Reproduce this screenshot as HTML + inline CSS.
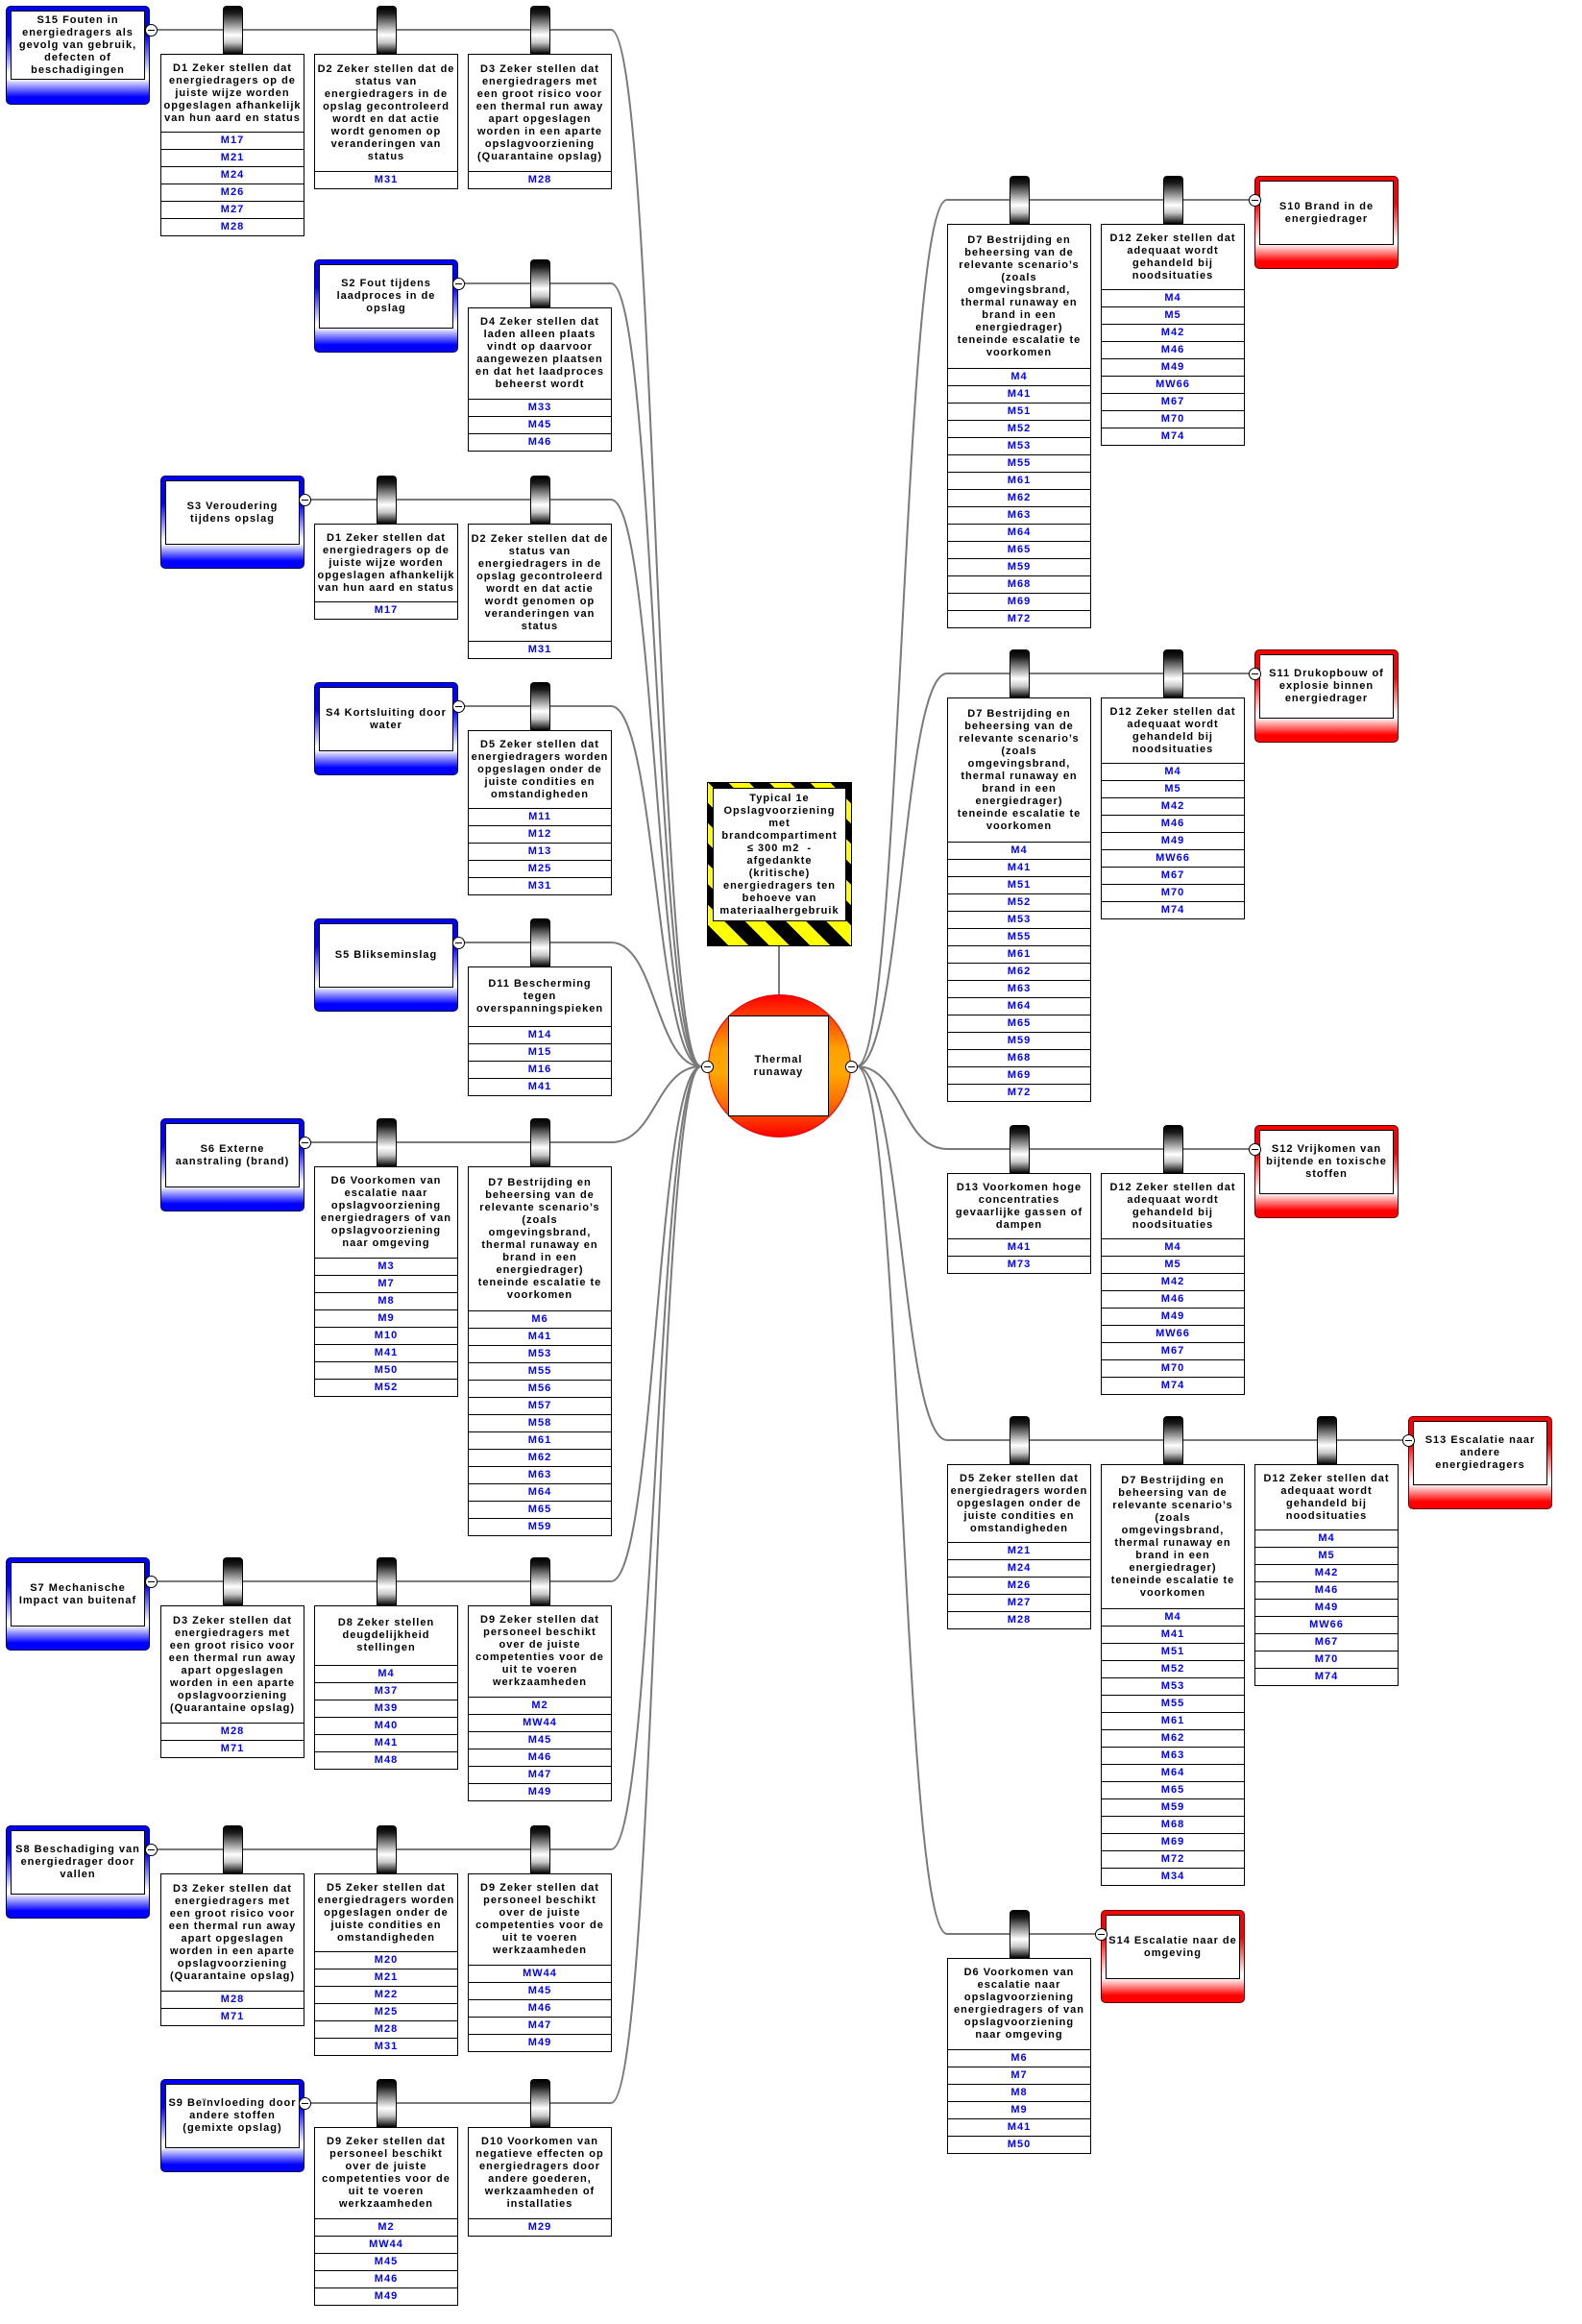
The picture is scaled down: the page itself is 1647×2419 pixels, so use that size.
<!DOCTYPE html>
<html><head><meta charset="utf-8">
<style>
html,body{margin:0;padding:0;}
body{width:1647px;height:2419px;position:relative;background:#fff;overflow:hidden;font-family:"Liberation Sans",Arial,sans-serif;}
svg.ln{position:absolute;left:0;top:0;}
.c{position:absolute;width:19px;height:49px;border:1px solid #000;border-bottom:none;border-radius:4px 4px 0 0;background:linear-gradient(to bottom,#000 0%,#1c1c1c 14%,#ffffff 60%,#c8c8c8 76%,#000 100%);}
.d{position:absolute;width:148px;border:1px solid #000;background:#fff;}
.d .t{display:flex;align-items:center;justify-content:center;text-align:center;font-weight:bold;font-size:11px;line-height:13px;letter-spacing:1px;white-space:nowrap;color:#000;}
.d .m{height:17px;border-top:1px solid #000;color:#0000ff;font-weight:bold;font-size:11px;line-height:17px;letter-spacing:1px;text-align:center;}
.s{position:absolute;width:148px;height:95px;border-radius:5px;}
.s.b{border:1px solid #000050;background:linear-gradient(to bottom,#0000ff 0px,#0000ff 28px,#ffffff 66px,#ffffff 70px,#0000ff 88px,#0000ff 95px);}
.s.r{border:1px solid #600000;background:linear-gradient(to bottom,#ff0000 0px,#ff0000 28px,#ffffff 66px,#ffffff 70px,#ff0000 88px,#ff0000 95px);}
.s.tall{height:101px;background:linear-gradient(to bottom,#0000ff 0px,#0000ff 30px,#ffffff 70px,#ffffff 75px,#0000ff 94px,#0000ff 101px);}
.si{position:absolute;left:4px;top:4px;width:138px;height:65px;border:1px solid #000;background:#fff;display:flex;align-items:center;justify-content:center;text-align:center;font-weight:bold;font-size:11px;line-height:13px;letter-spacing:1px;white-space:nowrap;color:#000;}
.tall .si{height:70px;}
.o{position:absolute;width:11px;height:11px;border:1px solid #000;border-radius:50%;background:#fff;}
.o::after{content:"";position:absolute;left:2px;top:5px;width:7px;height:1px;background:#000;}
.hz{position:absolute;left:736px;top:814px;width:149px;height:169px;border:1px solid #000;background:repeating-linear-gradient(45deg,#000 0px,#000 15px,#ffff00 15px,#ffff00 30px);}
.hzi{position:absolute;left:5px;top:5px;width:137px;height:137px;border:1px solid #000;background:#fff;display:flex;align-items:center;justify-content:center;text-align:center;font-weight:bold;font-size:11px;line-height:13px;letter-spacing:1px;white-space:nowrap;color:#000;}
.te{position:absolute;left:737px;top:1035px;width:147px;height:147px;border:1px solid #e00000;border-radius:50%;background:linear-gradient(to bottom,#ff0000 0%,#ff3c00 14%,#ffa000 38%,#ffa800 55%,#ff7000 75%,#ff0000 100%);}
.tei{position:absolute;left:758px;top:1057px;width:103px;height:103px;border:1px solid #000;background:#fff;display:flex;align-items:center;justify-content:center;text-align:center;font-weight:bold;font-size:11px;line-height:13px;letter-spacing:1px;color:#000;}
</style></head><body>

<svg class="ln" width="1647" height="2419" viewBox="0 0 1647 2419">
<g fill="none" stroke="#7a7a7a" stroke-width="2">
<path d="M157 31 H636 C683 31 683 1110 730 1110"/>
<path d="M477 295 H636 C683 295 683 1110 730 1110"/>
<path d="M317 520 H636 C683 520 683 1110 730 1110"/>
<path d="M477 735 H636 C683 735 683 1110 730 1110"/>
<path d="M477 981 H636 C683 981 683 1110 730 1110"/>
<path d="M317 1189 H636 C683 1189 683 1110 730 1110"/>
<path d="M157 1646 H636 C683 1646 683 1110 730 1110"/>
<path d="M157 1925 H636 C683 1925 683 1110 730 1110"/>
<path d="M317 2189 H636 C683 2189 683 1110 730 1110"/>
<path d="M1306 208 H986 C939 208 939 1110 892 1110"/>
<path d="M1306 701 H986 C939 701 939 1110 892 1110"/>
<path d="M1306 1196 H986 C939 1196 939 1110 892 1110"/>
<path d="M1466 1499 H986 C939 1499 939 1110 892 1110"/>
<path d="M1146 2013 H986 C939 2013 939 1110 892 1110"/>
<path d="M811 985 V1035"/>
</g>
</svg>

<!-- connectors -->
<div class="c" style="left:232px;top:6px"></div>
<div class="c" style="left:392px;top:6px"></div>
<div class="c" style="left:552px;top:6px"></div>
<div class="c" style="left:552px;top:270px"></div>
<div class="c" style="left:392px;top:495px"></div>
<div class="c" style="left:552px;top:495px"></div>
<div class="c" style="left:552px;top:710px"></div>
<div class="c" style="left:552px;top:956px"></div>
<div class="c" style="left:392px;top:1164px"></div>
<div class="c" style="left:552px;top:1164px"></div>
<div class="c" style="left:232px;top:1621px"></div>
<div class="c" style="left:392px;top:1621px"></div>
<div class="c" style="left:552px;top:1621px"></div>
<div class="c" style="left:232px;top:1900px"></div>
<div class="c" style="left:392px;top:1900px"></div>
<div class="c" style="left:552px;top:1900px"></div>
<div class="c" style="left:392px;top:2164px"></div>
<div class="c" style="left:552px;top:2164px"></div>

<div class="c" style="left:1051px;top:183px"></div>
<div class="c" style="left:1211px;top:183px"></div>
<div class="c" style="left:1051px;top:676px"></div>
<div class="c" style="left:1211px;top:676px"></div>
<div class="c" style="left:1051px;top:1171px"></div>
<div class="c" style="left:1211px;top:1171px"></div>
<div class="c" style="left:1051px;top:1474px"></div>
<div class="c" style="left:1211px;top:1474px"></div>
<div class="c" style="left:1371px;top:1474px"></div>
<div class="c" style="left:1051px;top:1988px"></div>

<!-- LEFT: S15 -->
<div class="s b tall" style="left:6px;top:6px"><div class="si">S15 Fouten in<br>energiedragers als<br>gevolg van gebruik,<br>defecten of<br>beschadigingen</div></div>
<div class="d" style="left:167px;top:56px"><div class="t" style="height:80px"><div>D1 Zeker stellen dat<br>energiedragers op de<br>juiste wijze worden<br>opgeslagen afhankelijk<br>van hun aard en status</div></div><div class="m">M17</div><div class="m">M21</div><div class="m">M24</div><div class="m">M26</div><div class="m">M27</div><div class="m">M28</div></div>
<div class="d" style="left:327px;top:56px"><div class="t" style="height:121px"><div>D2 Zeker stellen dat de<br>status van<br>energiedragers in de<br>opslag gecontroleerd<br>wordt en dat actie<br>wordt genomen op<br>veranderingen van<br>status</div></div><div class="m">M31</div></div>
<div class="d" style="left:487px;top:56px"><div class="t" style="height:121px"><div>D3 Zeker stellen dat<br>energiedragers met<br>een groot risico voor<br>een thermal run away<br>apart opgeslagen<br>worden in een aparte<br>opslagvoorziening<br>(Quarantaine opslag)</div></div><div class="m">M28</div></div>

<!-- S2 -->
<div class="s b" style="left:327px;top:270px"><div class="si">S2 Fout tijdens<br>laadproces in de<br>opslag</div></div>
<div class="d" style="left:487px;top:320px"><div class="t" style="height:94px"><div>D4 Zeker stellen dat<br>laden alleen plaats<br>vindt op daarvoor<br>aangewezen plaatsen<br>en dat het laadproces<br>beheerst wordt</div></div><div class="m">M33</div><div class="m">M45</div><div class="m">M46</div></div>

<!-- S3 -->
<div class="s b" style="left:167px;top:495px"><div class="si">S3 Veroudering<br>tijdens opslag</div></div>
<div class="d" style="left:327px;top:545px"><div class="t" style="height:80px"><div>D1 Zeker stellen dat<br>energiedragers op de<br>juiste wijze worden<br>opgeslagen afhankelijk<br>van hun aard en status</div></div><div class="m">M17</div></div>
<div class="d" style="left:487px;top:545px"><div class="t" style="height:121px"><div>D2 Zeker stellen dat de<br>status van<br>energiedragers in de<br>opslag gecontroleerd<br>wordt en dat actie<br>wordt genomen op<br>veranderingen van<br>status</div></div><div class="m">M31</div></div>

<!-- S4 -->
<div class="s b" style="left:327px;top:710px"><div class="si">S4 Kortsluiting door<br>water</div></div>
<div class="d" style="left:487px;top:760px"><div class="t" style="height:80px"><div>D5 Zeker stellen dat<br>energiedragers worden<br>opgeslagen onder de<br>juiste condities en<br>omstandigheden</div></div><div class="m">M11</div><div class="m">M12</div><div class="m">M13</div><div class="m">M25</div><div class="m">M31</div></div>

<!-- S5 -->
<div class="s b" style="left:327px;top:956px"><div class="si">S5 Blikseminslag</div></div>
<div class="d" style="left:487px;top:1006px"><div class="t" style="height:61px"><div>D11 Bescherming<br>tegen<br>overspanningspieken</div></div><div class="m">M14</div><div class="m">M15</div><div class="m">M16</div><div class="m">M41</div></div>

<!-- S6 -->
<div class="s b" style="left:167px;top:1164px"><div class="si">S6 Externe<br>aanstraling (brand)</div></div>
<div class="d" style="left:327px;top:1214px"><div class="t" style="height:94px"><div>D6 Voorkomen van<br>escalatie naar<br>opslagvoorziening<br>energiedragers of van<br>opslagvoorziening<br>naar omgeving</div></div><div class="m">M3</div><div class="m">M7</div><div class="m">M8</div><div class="m">M9</div><div class="m">M10</div><div class="m">M41</div><div class="m">M50</div><div class="m">M52</div></div>
<div class="d" style="left:487px;top:1214px"><div class="t" style="height:149px"><div>D7 Bestrijding en<br>beheersing van de<br>relevante scenario’s<br>(zoals<br>omgevingsbrand,<br>thermal runaway en<br>brand in een<br>energiedrager)<br>teneinde escalatie te<br>voorkomen</div></div><div class="m">M6</div><div class="m">M41</div><div class="m">M53</div><div class="m">M55</div><div class="m">M56</div><div class="m">M57</div><div class="m">M58</div><div class="m">M61</div><div class="m">M62</div><div class="m">M63</div><div class="m">M64</div><div class="m">M65</div><div class="m">M59</div></div>

<!-- S7 -->
<div class="s b" style="left:6px;top:1621px"><div class="si">S7 Mechanische<br>Impact van buitenaf</div></div>
<div class="d" style="left:167px;top:1671px"><div class="t" style="height:121px"><div>D3 Zeker stellen dat<br>energiedragers met<br>een groot risico voor<br>een thermal run away<br>apart opgeslagen<br>worden in een aparte<br>opslagvoorziening<br>(Quarantaine opslag)</div></div><div class="m">M28</div><div class="m">M71</div></div>
<div class="d" style="left:327px;top:1671px"><div class="t" style="height:61px"><div>D8 Zeker stellen<br>deugdelijkheid<br>stellingen</div></div><div class="m">M4</div><div class="m">M37</div><div class="m">M39</div><div class="m">M40</div><div class="m">M41</div><div class="m">M48</div></div>
<div class="d" style="left:487px;top:1671px"><div class="t" style="height:94px"><div>D9 Zeker stellen dat<br>personeel beschikt<br>over de juiste<br>competenties voor de<br>uit te voeren<br>werkzaamheden</div></div><div class="m">M2</div><div class="m">MW44</div><div class="m">M45</div><div class="m">M46</div><div class="m">M47</div><div class="m">M49</div></div>

<!-- S8 -->
<div class="s b" style="left:6px;top:1900px"><div class="si">S8 Beschadiging van<br>energiedrager door<br>vallen</div></div>
<div class="d" style="left:167px;top:1950px"><div class="t" style="height:121px"><div>D3 Zeker stellen dat<br>energiedragers met<br>een groot risico voor<br>een thermal run away<br>apart opgeslagen<br>worden in een aparte<br>opslagvoorziening<br>(Quarantaine opslag)</div></div><div class="m">M28</div><div class="m">M71</div></div>
<div class="d" style="left:327px;top:1950px"><div class="t" style="height:80px"><div>D5 Zeker stellen dat<br>energiedragers worden<br>opgeslagen onder de<br>juiste condities en<br>omstandigheden</div></div><div class="m">M20</div><div class="m">M21</div><div class="m">M22</div><div class="m">M25</div><div class="m">M28</div><div class="m">M31</div></div>
<div class="d" style="left:487px;top:1950px"><div class="t" style="height:94px"><div>D9 Zeker stellen dat<br>personeel beschikt<br>over de juiste<br>competenties voor de<br>uit te voeren<br>werkzaamheden</div></div><div class="m">MW44</div><div class="m">M45</div><div class="m">M46</div><div class="m">M47</div><div class="m">M49</div></div>

<!-- S9 -->
<div class="s b" style="left:167px;top:2164px"><div class="si">S9 Beïnvloeding door<br>andere stoffen<br>(gemixte opslag)</div></div>
<div class="d" style="left:327px;top:2214px"><div class="t" style="height:94px"><div>D9 Zeker stellen dat<br>personeel beschikt<br>over de juiste<br>competenties voor de<br>uit te voeren<br>werkzaamheden</div></div><div class="m">M2</div><div class="m">MW44</div><div class="m">M45</div><div class="m">M46</div><div class="m">M49</div></div>
<div class="d" style="left:487px;top:2214px"><div class="t" style="height:94px"><div>D10 Voorkomen van<br>negatieve effecten op<br>energiedragers door<br>andere goederen,<br>werkzaamheden of<br>installaties</div></div><div class="m">M29</div></div>

<!-- RIGHT: S10 -->
<div class="d" style="left:986px;top:233px"><div class="t" style="height:149px"><div>D7 Bestrijding en<br>beheersing van de<br>relevante scenario’s<br>(zoals<br>omgevingsbrand,<br>thermal runaway en<br>brand in een<br>energiedrager)<br>teneinde escalatie te<br>voorkomen</div></div><div class="m">M4</div><div class="m">M41</div><div class="m">M51</div><div class="m">M52</div><div class="m">M53</div><div class="m">M55</div><div class="m">M61</div><div class="m">M62</div><div class="m">M63</div><div class="m">M64</div><div class="m">M65</div><div class="m">M59</div><div class="m">M68</div><div class="m">M69</div><div class="m">M72</div></div>
<div class="d" style="left:1146px;top:233px"><div class="t" style="height:67px"><div>D12 Zeker stellen dat<br>adequaat wordt<br>gehandeld bij<br>noodsituaties</div></div><div class="m">M4</div><div class="m">M5</div><div class="m">M42</div><div class="m">M46</div><div class="m">M49</div><div class="m">MW66</div><div class="m">M67</div><div class="m">M70</div><div class="m">M74</div></div>
<div class="s r" style="left:1306px;top:183px"><div class="si">S10 Brand in de<br>energiedrager</div></div>

<!-- S11 -->
<div class="d" style="left:986px;top:726px"><div class="t" style="height:149px"><div>D7 Bestrijding en<br>beheersing van de<br>relevante scenario’s<br>(zoals<br>omgevingsbrand,<br>thermal runaway en<br>brand in een<br>energiedrager)<br>teneinde escalatie te<br>voorkomen</div></div><div class="m">M4</div><div class="m">M41</div><div class="m">M51</div><div class="m">M52</div><div class="m">M53</div><div class="m">M55</div><div class="m">M61</div><div class="m">M62</div><div class="m">M63</div><div class="m">M64</div><div class="m">M65</div><div class="m">M59</div><div class="m">M68</div><div class="m">M69</div><div class="m">M72</div></div>
<div class="d" style="left:1146px;top:726px"><div class="t" style="height:67px"><div>D12 Zeker stellen dat<br>adequaat wordt<br>gehandeld bij<br>noodsituaties</div></div><div class="m">M4</div><div class="m">M5</div><div class="m">M42</div><div class="m">M46</div><div class="m">M49</div><div class="m">MW66</div><div class="m">M67</div><div class="m">M70</div><div class="m">M74</div></div>
<div class="s r" style="left:1306px;top:676px"><div class="si">S11 Drukopbouw of<br>explosie binnen<br>energiedrager</div></div>

<!-- S12 -->
<div class="d" style="left:986px;top:1221px"><div class="t" style="height:67px"><div>D13 Voorkomen hoge<br>concentraties<br>gevaarlijke gassen of<br>dampen</div></div><div class="m">M41</div><div class="m">M73</div></div>
<div class="d" style="left:1146px;top:1221px"><div class="t" style="height:67px"><div>D12 Zeker stellen dat<br>adequaat wordt<br>gehandeld bij<br>noodsituaties</div></div><div class="m">M4</div><div class="m">M5</div><div class="m">M42</div><div class="m">M46</div><div class="m">M49</div><div class="m">MW66</div><div class="m">M67</div><div class="m">M70</div><div class="m">M74</div></div>
<div class="s r" style="left:1306px;top:1171px"><div class="si">S12 Vrijkomen van<br>bijtende en toxische<br>stoffen</div></div>

<!-- S13 -->
<div class="d" style="left:986px;top:1524px"><div class="t" style="height:80px"><div>D5 Zeker stellen dat<br>energiedragers worden<br>opgeslagen onder de<br>juiste condities en<br>omstandigheden</div></div><div class="m">M21</div><div class="m">M24</div><div class="m">M26</div><div class="m">M27</div><div class="m">M28</div></div>
<div class="d" style="left:1146px;top:1524px"><div class="t" style="height:149px"><div>D7 Bestrijding en<br>beheersing van de<br>relevante scenario’s<br>(zoals<br>omgevingsbrand,<br>thermal runaway en<br>brand in een<br>energiedrager)<br>teneinde escalatie te<br>voorkomen</div></div><div class="m">M4</div><div class="m">M41</div><div class="m">M51</div><div class="m">M52</div><div class="m">M53</div><div class="m">M55</div><div class="m">M61</div><div class="m">M62</div><div class="m">M63</div><div class="m">M64</div><div class="m">M65</div><div class="m">M59</div><div class="m">M68</div><div class="m">M69</div><div class="m">M72</div><div class="m">M34</div></div>
<div class="d" style="left:1306px;top:1524px"><div class="t" style="height:67px"><div>D12 Zeker stellen dat<br>adequaat wordt<br>gehandeld bij<br>noodsituaties</div></div><div class="m">M4</div><div class="m">M5</div><div class="m">M42</div><div class="m">M46</div><div class="m">M49</div><div class="m">MW66</div><div class="m">M67</div><div class="m">M70</div><div class="m">M74</div></div>
<div class="s r" style="left:1466px;top:1474px"><div class="si">S13 Escalatie naar<br>andere<br>energiedragers</div></div>

<!-- S14 -->
<div class="d" style="left:986px;top:2038px"><div class="t" style="height:94px"><div>D6 Voorkomen van<br>escalatie naar<br>opslagvoorziening<br>energiedragers of van<br>opslagvoorziening<br>naar omgeving</div></div><div class="m">M6</div><div class="m">M7</div><div class="m">M8</div><div class="m">M9</div><div class="m">M41</div><div class="m">M50</div></div>
<div class="s r" style="left:1146px;top:1988px"><div class="si">S14 Escalatie naar de<br>omgeving</div></div>

<!-- Hazard & top event -->
<div class="hz"><div class="hzi"><div>Typical 1e<br>Opslagvoorziening<br>met<br>brandcompartiment<br>≤ 300 m2&nbsp;&nbsp;-<br>afgedankte<br>(kritische)<br>energiedragers ten<br>behoeve van<br>materiaalhergebruik</div></div></div>
<div class="te"></div>
<div class="tei"><div>Thermal<br>runaway</div></div>

<!-- collapse circles -->
<div class="o" style="left:151px;top:25px"></div>
<div class="o" style="left:471px;top:289px"></div>
<div class="o" style="left:311px;top:514px"></div>
<div class="o" style="left:471px;top:729px"></div>
<div class="o" style="left:471px;top:975px"></div>
<div class="o" style="left:311px;top:1183px"></div>
<div class="o" style="left:151px;top:1640px"></div>
<div class="o" style="left:151px;top:1919px"></div>
<div class="o" style="left:311px;top:2183px"></div>
<div class="o" style="left:1300px;top:202px"></div>
<div class="o" style="left:1300px;top:695px"></div>
<div class="o" style="left:1300px;top:1190px"></div>
<div class="o" style="left:1460px;top:1493px"></div>
<div class="o" style="left:1140px;top:2007px"></div>
<div class="o" style="left:730px;top:1104px"></div>
<div class="o" style="left:880px;top:1104px"></div>

</body></html>
